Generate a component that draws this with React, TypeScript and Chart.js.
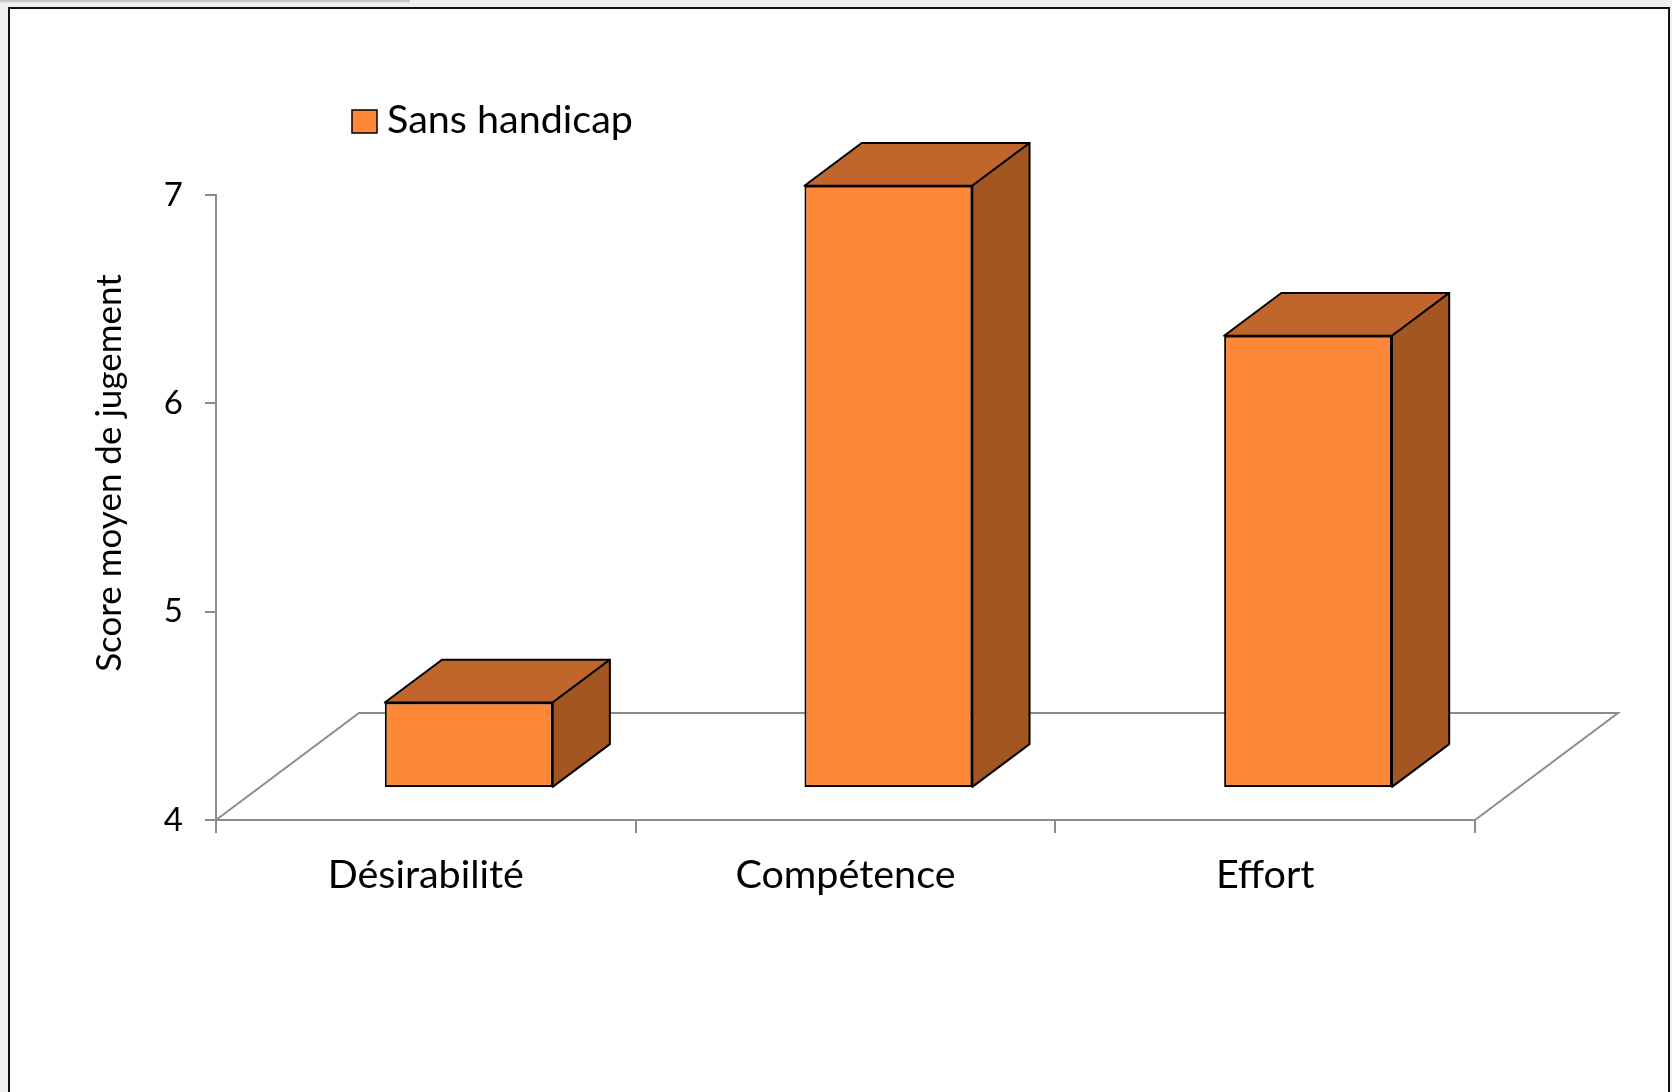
import React, { useEffect, useRef } from "react";
import { Chart, registerables } from "chart.js";

Chart.register(...registerables);

// ---- data ----
const categories = ["Désirabilité", "Compétence", "Effort"];
const seriesLabel = "Sans handicap";
const seriesValues = [4.41, 6.89, 6.17];
const yTickValues = [4, 5, 6, 7];
const yAxisTitle = "Score moyen de jugement";

// ---- styles ----
const FONT = "Lato, 'Open Sans', sans-serif";
const FRONT = "#FF8838";
const TOP = "#C0652B";
const SIDE = "#A35622";
const GRID = "#8C8C8C";
const FLOOR_DX = 143;
const FLOOR_DY = -107;
const BAR_FRONT = 0.3;
const BAR_DEPTH = 0.4;

const box3d = {
  id: "box3d",
  beforeDatasetsDraw(chart: any) {
    const { ctx, chartArea: a } = chart;
    ctx.save();
    ctx.strokeStyle = GRID;
    ctx.lineWidth = 2;
    ctx.beginPath();
    ctx.moveTo(a.left, a.bottom);
    ctx.lineTo(a.left + FLOOR_DX, a.bottom + FLOOR_DY);
    ctx.lineTo(a.right + FLOOR_DX, a.bottom + FLOOR_DY);
    ctx.lineTo(a.right, a.bottom);
    ctx.stroke();
    ctx.restore();
  },
  beforeDatasetDraw(chart: any) {
    chart.ctx.save();
    chart.ctx.translate(FLOOR_DX * BAR_FRONT, FLOOR_DY * BAR_FRONT);
  },
  afterDatasetDraw(chart: any, args: any) {
    const ctx = chart.ctx;
    ctx.restore();
    const fdx = FLOOR_DX * BAR_FRONT;
    const fdy = FLOOR_DY * BAR_FRONT;
    const ddx = FLOOR_DX * BAR_DEPTH;
    const ddy = FLOOR_DY * BAR_DEPTH;
    args.meta.data.forEach((el: any) => {
      const { x, y, base, width } = el.getProps(["x", "y", "base", "width"], true);
      const l = x - width / 2 + fdx;
      const r = x + width / 2 + fdx;
      const t = y + fdy;
      const b = base + fdy;
      ctx.save();
      ctx.lineWidth = 2;
      ctx.strokeStyle = "#000";
      ctx.lineJoin = "round";
      ctx.beginPath();
      ctx.moveTo(l, t);
      ctx.lineTo(l + ddx, t + ddy);
      ctx.lineTo(r + ddx, t + ddy);
      ctx.lineTo(r, t);
      ctx.closePath();
      ctx.fillStyle = TOP;
      ctx.fill();
      ctx.stroke();
      ctx.beginPath();
      ctx.moveTo(r, t);
      ctx.lineTo(r + ddx, t + ddy);
      ctx.lineTo(r + ddx, b + ddy);
      ctx.lineTo(r, b);
      ctx.closePath();
      ctx.fillStyle = SIDE;
      ctx.fill();
      ctx.stroke();
      ctx.restore();
    });
  },
  afterDraw(chart: any) {
    const ctx = chart.ctx;
    // legend
    ctx.save();
    ctx.fillStyle = FRONT;
    ctx.fillRect(352, 110, 25, 23);
    ctx.strokeStyle = "#000";
    ctx.lineWidth = 1.5;
    ctx.strokeRect(352, 110, 25, 23);
    ctx.fillStyle = "#000";
    ctx.font = `39.5px ${FONT}`;
    ctx.textAlign = "left";
    ctx.textBaseline = "alphabetic";
    ctx.fillText(chart.data.datasets[0].label, 387, 133);
    // y title
    ctx.translate(110, 473);
    ctx.rotate(-Math.PI / 2);
    ctx.font = `35px ${FONT}`;
    ctx.textAlign = "center";
    ctx.textBaseline = "middle";
    ctx.fillText(yAxisTitle, 0, 0);
    ctx.restore();
  },
};

export default function App() {
  const ref = useRef<HTMLCanvasElement | null>(null);

  useEffect(() => {
    if (!ref.current) return;
    const chart = new Chart(ref.current, {
      type: "bar",
      data: {
        labels: categories,
        datasets: [
          {
            label: seriesLabel,
            data: seriesValues,
            base: yTickValues[0],
            backgroundColor: FRONT,
            borderColor: "#000",
            borderWidth: 2,
            borderSkipped: false,
            categoryPercentage: 1,
            barPercentage: 0.4,
            clip: false as any,
          } as any,
        ],
      },
      options: {
        animation: false,
        responsive: false,
        devicePixelRatio: 1,
        layout: { padding: { top: 195, left: 0, right: 197, bottom: 172 } },
        plugins: { legend: { display: false }, tooltip: { enabled: false } },
        scales: {
          x: {
            offset: true,
            grid: {
              offset: true,
              drawOnChartArea: false,
              drawTicks: true,
              tickLength: 13,
              color: GRID,
              lineWidth: 2,
            },
            border: { display: true, color: GRID, width: 2 },
            ticks: {
              color: "#000",
              font: { family: FONT, size: 39.5 },
              padding: 19,
              maxRotation: 0,
              autoSkip: false,
            },
            afterFit: (s: any) => {
              s.height = 100;
            },
          },
          y: {
            min: yTickValues[0],
            max: yTickValues[yTickValues.length - 1],
            afterBuildTicks: (s: any) => {
              s.ticks = yTickValues.map((v) => ({ value: v }));
            },
            grid: {
              drawOnChartArea: false,
              drawTicks: true,
              tickLength: 11,
              color: GRID,
              lineWidth: 2,
            },
            border: { display: true, color: GRID, width: 2 },
            ticks: {
              color: "#000",
              font: { family: FONT, size: 33 },
              padding: 22,
            },
            afterFit: (s: any) => {
              s.width = 216;
            },
          },
        },
      },
      plugins: [box3d],
    });
    return () => chart.destroy();
  }, []);

  return (
    <div
      style={{
        position: "absolute",
        left: 0,
        top: 0,
        width: 1672,
        height: 1092,
        background: "#F0F0F0",
        overflow: "hidden",
      }}
    >
      <div
        style={{
          position: "absolute",
          left: 0,
          top: 0,
          width: 410,
          height: 3,
          background: "linear-gradient(#bdbdbd, #e6e6e6)",
        }}
      />
      <div
        style={{
          position: "absolute",
          left: 8,
          top: 7,
          width: 1662,
          height: 1120,
          boxSizing: "border-box",
          border: "2px solid #111",
          background: "#FFFFFF",
        }}
      />
      <canvas
        ref={ref}
        width={1672}
        height={1092}
        style={{ position: "absolute", left: 0, top: 0, width: 1672, height: 1092 }}
      />
    </div>
  );
}
